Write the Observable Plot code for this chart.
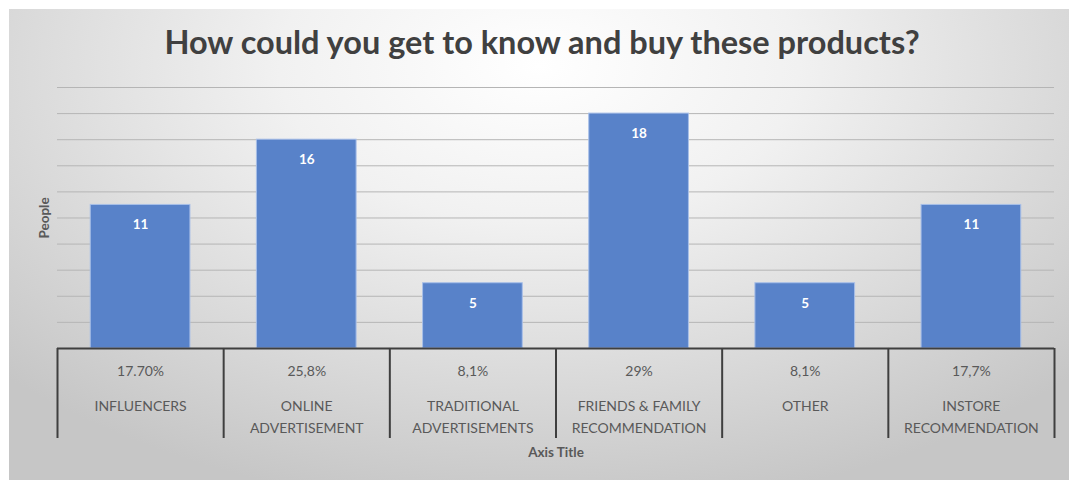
<!DOCTYPE html>
<html>
<head>
<meta charset="utf-8">
<script src="https://cdn.jsdelivr.net/npm/d3@7"></script>
<script src="https://cdn.jsdelivr.net/npm/@observablehq/plot@0.6"></script>
<style>
  html, body { margin: 0; padding: 0; background: #ffffff; }
  #wrap { position: relative; width: 1069px; height: 480px; overflow: hidden; }
  #bg { position: absolute; left: 9px; top: 9px; right: 0; bottom: 0;
        background: radial-gradient(ellipse 70% 95% at 50% 12%, #ffffff 0%, #f1f1f1 35%, #dadada 70%, #c6c6c6 100%); }
  #title { position: absolute; left: 0; top: 22px; width: 1084px; text-align: center;
           font-family: Lato, "Open Sans", sans-serif; font-weight: 700; font-size: 32.5px; color: #404040; }
  #chart { position: absolute; left: 0; top: 0; }
</style>
</head>
<body>
<div id="wrap">
  <div id="bg"></div>
  <div id="title">How could you get to know and buy these products?</div>
  <div id="chart"></div>
</div>
<script>
const categories = ["INFLUENCERS", "ONLINE\nADVERTISEMENT", "TRADITIONAL\nADVERTISEMENTS", "FRIENDS & FAMILY\nRECOMMENDATION", "OTHER", "INSTORE\nRECOMMENDATION"];
const shares = ["17.70%", "25,8%", "8,1%", "29%", "8,1%", "17,7%"];
const people = [11, 16, 5, 18, 5, 11];
const gridTicks = [2, 4, 6, 8, 10, 12, 14, 16, 18, 20];

const rows = categories.map((c, i) => ({i, category: c, share: shares[i], value: people[i]}));
const bounds = d3.range(categories.length + 1);

const font = "Lato, 'Open Sans', sans-serif";
const chart = Plot.plot({
  width: 1069,
  height: 480,
  marginLeft: 57,
  marginRight: 15,
  marginTop: 87,
  marginBottom: 42,
  style: {background: "transparent", fontFamily: font},
  x: {type: "linear", domain: [0, categories.length], axis: null},
  y: {domain: [-6.9, 20], axis: null},
  marks: [
    Plot.ruleY(gridTicks, {stroke: "#b5b5b5", strokeWidth: 1, x1: 0, x2: categories.length}),
    Plot.rectY(rows, {x1: d => d.i + 0.2, x2: d => d.i + 0.8, y1: 0, y2: "value", fill: "#5882c9", stroke: "#a8bfe8", strokeWidth: 1}),
    Plot.text(rows, {x: d => d.i + 0.5, y: "value", text: d => String(d.value), dy: 20, fill: "#ffffff", fontWeight: 700, fontSize: 13.5}),
    Plot.ruleY([0], {stroke: "#3f3f3f", strokeWidth: 2, x1: 0, x2: categories.length}),
    Plot.ruleX(bounds, {x: d => d, y1: -6.9, y2: 0, stroke: "#3f3f3f", strokeWidth: 2}),
    Plot.text(rows, {x: d => d.i + 0.5, y: 0, text: "share", dy: 23, fill: "#595959", fontSize: 14}),
    Plot.text(rows, {x: d => d.i + 0.5, y: 0, text: "category", dy: 47, lineAnchor: "top", lineHeight: 1.57, fill: "#595959", fontSize: 14}),
    Plot.text(["Axis Title"], {frameAnchor: "bottom", dy: 18, fill: "#595959", fontWeight: 700, fontSize: 13.5}),
    Plot.text(["People"], {x: 0, y: 10, dx: -13, rotate: -90, fill: "#595959", fontWeight: 700, fontSize: 13.5})
  ]
});
document.getElementById("chart").appendChild(chart);
</script>
</body>
</html>
